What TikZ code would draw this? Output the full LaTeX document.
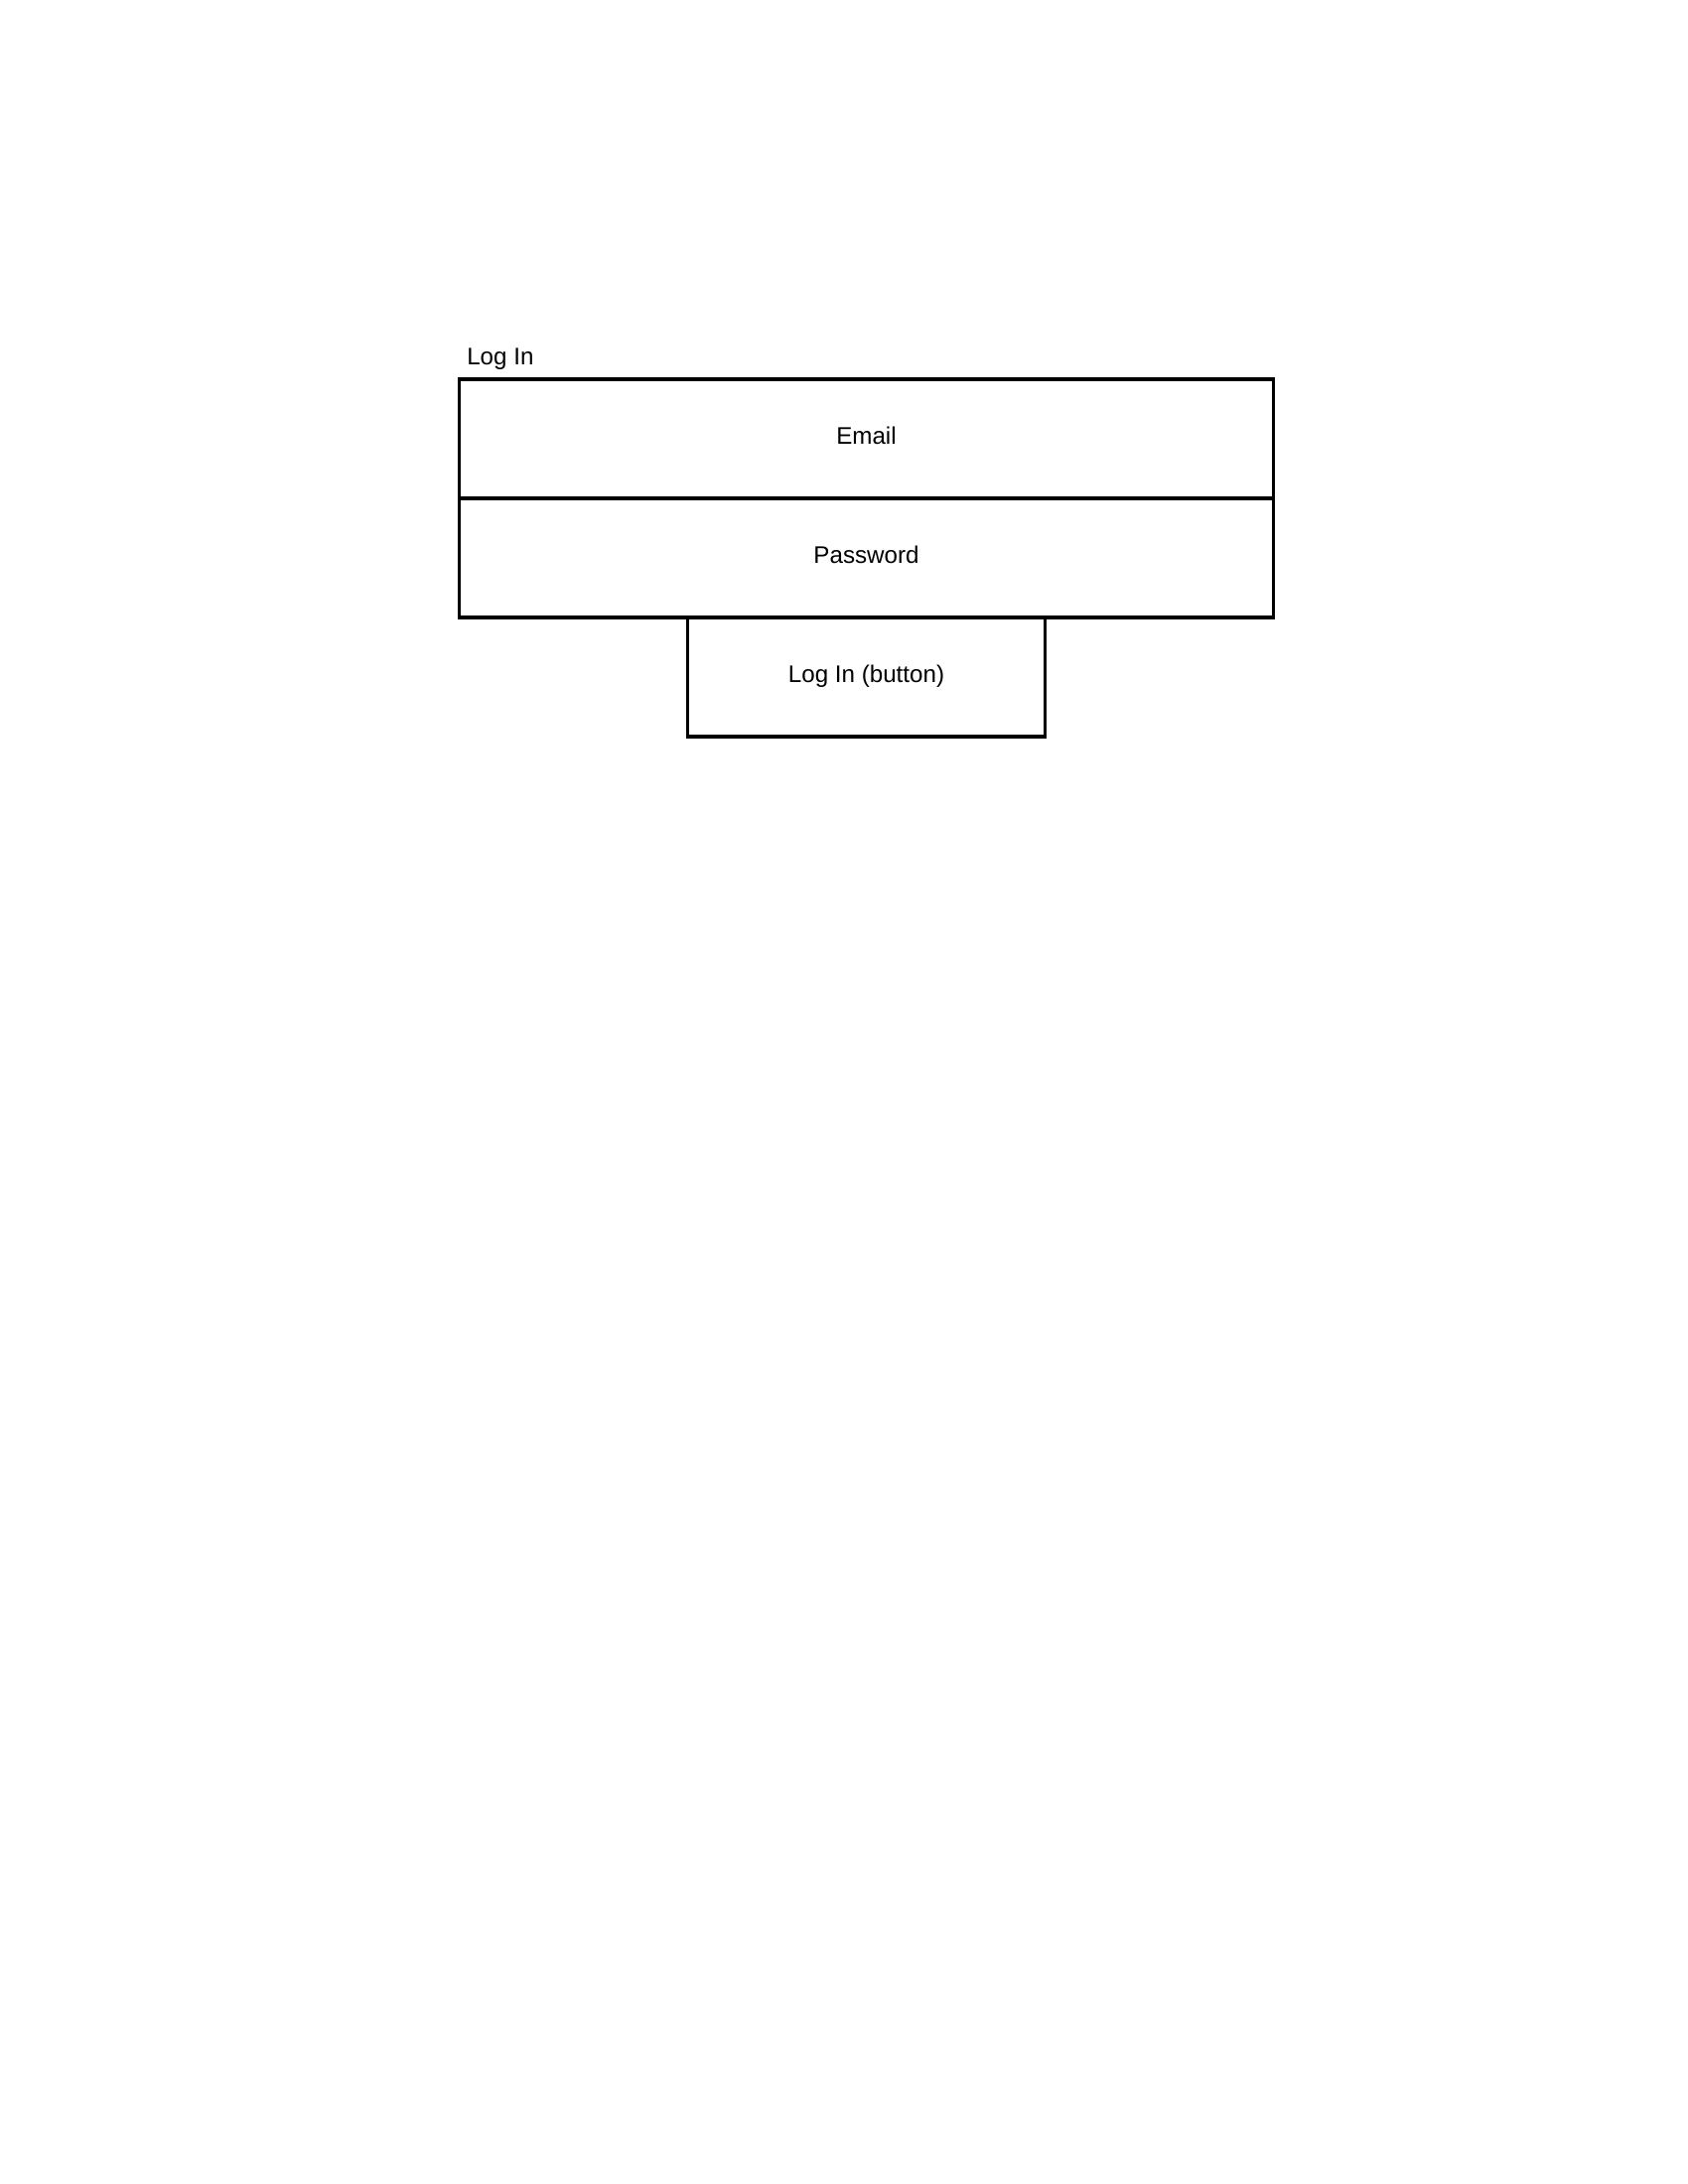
\documentclass[tikz,border=0pt]{standalone}
\usepackage{fontspec}
\setmainfont{Liberation Sans}
\usetikzlibrary{positioning}
\begin{document}
\begin{tikzpicture}[x=0.36pt, y=-0.36pt,
    campo/.style={draw, line width=1.2pt, outer sep=0pt, minimum width=295.2pt,
        minimum height=43.2pt, text height=6.2pt, text depth=2.2pt,
        font=\fontsize{8.7}{10}\selectfont},
    boton/.style={campo, minimum width=129.6pt}]
    \useasboundingbox (0,0) rectangle (1700,2200);

    % Campos del formulario, uno debajo del otro
    \node[campo] (email) at (872.5,442) {Email};
    \node[campo, below=0pt of email] (password) {Password};
    \node[boton, below=0pt of password] (boton) {Log In (button)};

    % Titulo encima del formulario
    \node[anchor=base west, inner sep=0pt, font=\fontsize{8.7}{10}\selectfont]
        (titulo) at ([xshift=2.6pt, yshift=5.2pt]email.north west) {Log In};
\end{tikzpicture}
\end{document}
